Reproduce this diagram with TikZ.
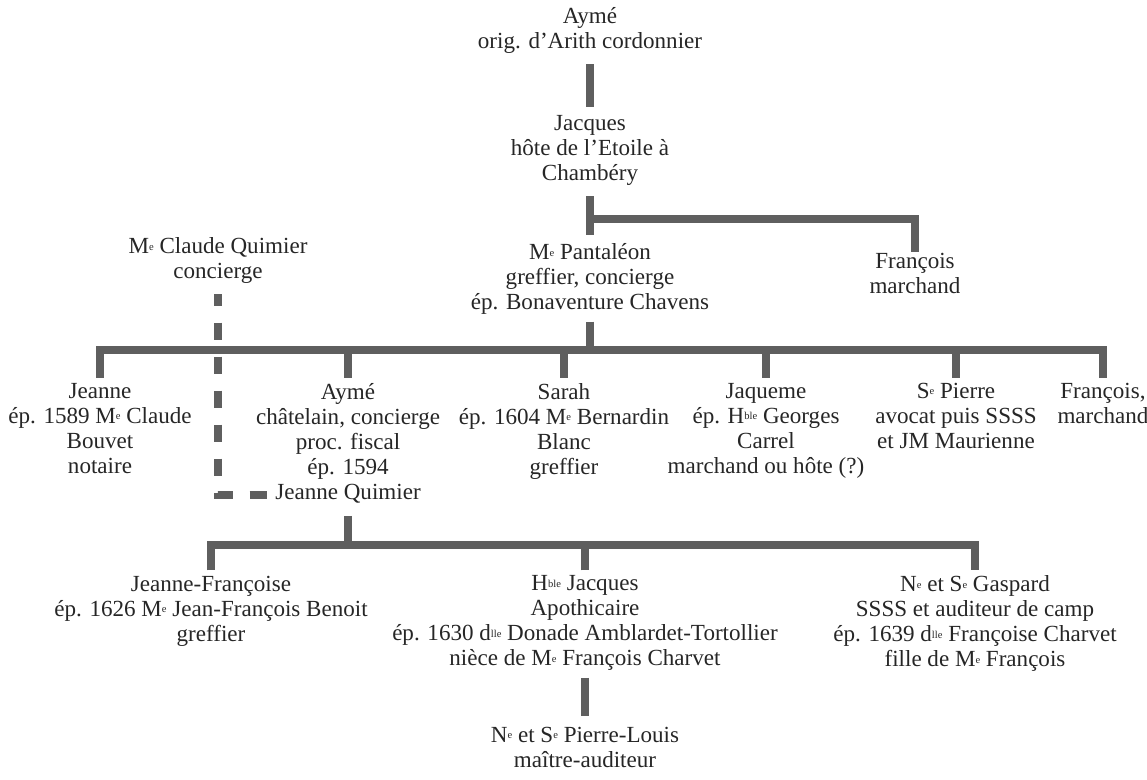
\documentclass[tikz,border=0pt]{standalone}
\usepackage{fontspec}
\setmainfont{Liberation Serif}
\usetikzlibrary{calc,positioning}
\definecolor{barcol}{HTML}{5F5F5F}
\newcommand\supe[1]{\raisebox{0.35ex}{\fontsize{7.5}{7.5}\selectfont #1}}
\tikzset{
    person/.style={anchor=north, align=center, inner sep=0pt, text=black!85,
        font=\fontsize{16.4}{17.8}\selectfont,
        execute at begin node=\strut, execute at end node=\strut},
    bar/.style={draw=barcol, line width=0.2cm, line cap=butt, line join=miter},
    alliance/.style={bar, dash pattern=on 0.425cm off 0.425cm, dash phase=0.14cm},
}

\begin{document}
\begin{tikzpicture}[x=0.025cm, y=-0.025cm]
    \useasboundingbox (0,0) rectangle (1147,780);
    \node[person] (ayme1) at (590,7) {Aymé\\orig. d’Arith cordonnier};
    \node[person] (jacques) at (590,115) {Jacques\\hôte de l’Etoile à\\Chambéry};
    \node[person] (pantaleon) at (590,243.5) {M\supe{e} Pantaléon\\greffier, concierge\\ép. Bonaventure Chavens};
    \node[person] (francois1) at (915,252.5) {François\\marchand};
    \node[person] (claude) at (218,237.5) {M\supe{e} Claude Quimier\\concierge};

    \node[person] (jeanne) at (100,383) {Jeanne\\ép. 1589 M\supe{e} Claude\\Bouvet\\notaire};
    \node[person] (ayme2) at (348,383) {Aymé\\châtelain, concierge\\proc. fiscal\\ép. 1594};
    \node[person, below=0pt of ayme2] (jquimier) {Jeanne Quimier};
    \node[person] (sarah) at (564,383) {Sarah\\ép. 1604 M\supe{e} Bernardin\\Blanc\\greffier};
    \node[person] (jaqueme) at (766,383) {Jaqueme\\ép. H\supe{ble} Georges\\Carrel\\marchand ou hôte (?)};
    \node[person] (pierre) at (956,383) {S\supe{e} Pierre\\avocat puis SSSS\\et JM Maurienne};
    \node[person] (francois2) at (1103,383) {François,\\marchand};

    \node[person] (jfrancoise) at (211,575.5) {Jeanne-Françoise\\ép. 1626 M\supe{e} Jean-François Benoit\\greffier};
    \node[person] (hjacques) at (585,575.5) {H\supe{ble} Jacques\\Apothicaire\\ép. 1630 d\supe{lle} Donade Amblardet-Tortollier\\nièce de M\supe{e} François Charvet};
    \node[person] (gaspard) at (975,575.5) {N\supe{e} et S\supe{e} Gaspard\\SSSS et auditeur de camp\\ép. 1639 d\supe{lle} Françoise Charvet\\fille de M\supe{e} François};
    \node[person] (plouis) at (585,726.5) {N\supe{e} et S\supe{e} Pierre-Louis\\maître-auditeur};

    \draw[bar] ([yshift=-0.2cm]ayme1.south) -- ([yshift=0.2cm]jacques.north);
    \coordinate (fork1) at ($(jacques.south)!0.56!(pantaleon.north)$);
    \draw[bar] ([yshift=-0.2cm]jacques.south) -- ([yshift=0.2cm]pantaleon.north);
    \draw[bar] (fork1) -| (francois1.north);

    \coordinate (fork2) at ($(pantaleon.south)+(0,32)$);
    \draw[bar] ([yshift=-0.1cm]pantaleon.south) -- (fork2);
    \draw[bar] ([yshift=0.125cm]jeanne.north) |- (fork2) -| ([yshift=0.125cm]francois2.north);
    \foreach \n in {ayme2,sarah,jaqueme,pierre}
        \draw[bar] ([yshift=0.125cm]\n.north) -- (\n.north |- fork2);

    \draw[alliance] ([yshift=-0.19cm]claude.south) |- ([xshift=-0.2cm]jquimier.west);

    \coordinate (fork3) at ($(jquimier.south)+(0,37)$);
    \draw[bar] ([yshift=-0.2cm]jquimier.south) -- (fork3);
    \draw[bar] ([yshift=0.125cm]jfrancoise.north) |- (fork3) -| ([yshift=0.125cm]gaspard.north);
    \draw[bar] ([yshift=0.125cm]hjacques.north) -- (hjacques.north |- fork3);
    \draw[bar] ([yshift=-0.1cm]hjacques.south) -- ([yshift=0.25cm]plouis.north);
\end{tikzpicture}
\end{document}
